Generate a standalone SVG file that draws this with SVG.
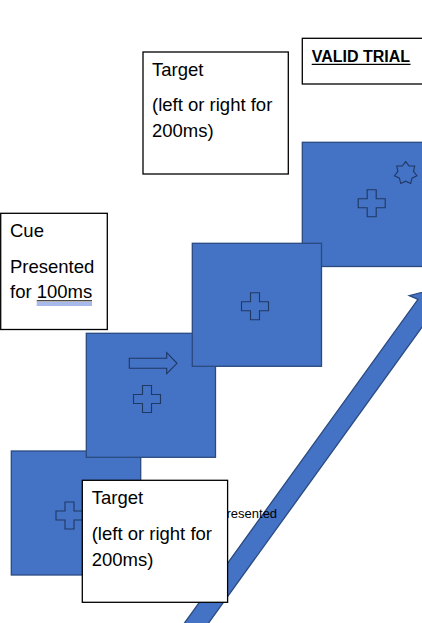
<svg xmlns="http://www.w3.org/2000/svg" xmlns:xlink="http://www.w3.org/1999/xlink" width="422" height="623" viewBox="0 0 422 623">
  <style>
    .screen { fill: #4472C4; stroke: #2A4A80; stroke-width: 1.3; }
    .shape { fill: #4472C4; stroke: #1F3864; stroke-width: 1.1; }
    .box { fill: #FFFFFF; stroke: #000000; stroke-width: 1.3; }
    .txt { font-family: "Liberation Sans", Arial, sans-serif; font-size: 18.5px; fill: #000000; }
    .small { font-family: "Liberation Sans", Arial, sans-serif; font-size: 13px; fill: #000000; }
    .title { font-family: "Liberation Sans", Arial, sans-serif; font-size: 16px; font-weight: bold; fill: #000000; }
  </style>
  <defs>
    <path id="plus" d="M-4.5,-13.5 H4.5 V-4.5 H13.5 V4.5 H4.5 V13.5 H-4.5 V4.5 H-13.5 V-4.5 H-4.5 Z"/>
  </defs>
  <rect width="422" height="623" fill="#FFFFFF"/>

  <g id="screen-1">
    <rect class="screen" x="11.3" y="451" width="129.4" height="124"/>
    <use xlink:href="#plus" href="#plus" class="shape" x="69.5" y="515.5"/>
  </g>
  <g id="screen-2">
    <rect class="screen" x="86.3" y="333.3" width="129.2" height="124"/>
    <polygon class="shape" points="129.3,358.3 166.7,358.3 166.7,352.7 177,363.3 166.7,373.7 166.7,368.3 129.3,368.3"/>
    <use xlink:href="#plus" href="#plus" class="shape" x="147" y="399"/>
  </g>
  <g id="screen-4">
    <rect class="screen" x="302.3" y="142.3" width="130" height="124.2"/>
    <use xlink:href="#plus" href="#plus" class="shape" x="371.7" y="203.3"/>
    <polygon class="shape" transform="translate(405.7,173.2)" points="0,-11.5 3.47,-7.21 8.99,-7.17 7.8,-1.78 11.21,2.56 6.25,4.99 4.99,10.36 0,8 -4.99,10.36 -6.25,4.99 -11.21,2.56 -7.8,-1.78 -8.99,-7.17 -3.47,-7.21"/>
  </g>
  <g id="screen-3">
    <rect class="screen" x="192.3" y="243.3" width="129.2" height="123"/>
    <use xlink:href="#plus" href="#plus" class="shape" x="255" y="306.3"/>
  </g>

  <g id="connectors">
    <polygon id="time-arrow" class="screen" points="172.2,640 418,299.3 409.3,295.7 437,288.6 440.8,315.7 433.8,310.7 196.3,640"/>
  </g>

  <g id="presented-label">
    <text class="small" x="226.5" y="517.7">resented</text>
  </g>

  <g id="cue-box">
    <rect class="box" x="0.7" y="213.3" width="106.6" height="116.2"/>
    <text class="txt" x="10" y="237">Cue</text>
    <text class="txt" x="10" y="273">Presented</text>
    <text class="txt" x="10" y="298">for 100ms</text>
    <line x1="36.7" y1="300.8" x2="92" y2="300.8" stroke="#000000" stroke-width="1"/>
    <line x1="36.7" y1="303" x2="92" y2="303" stroke="#3C64D2" stroke-width="0.9"/>
    <line x1="36.7" y1="305" x2="92" y2="305" stroke="#3C64D2" stroke-width="0.9"/>
  </g>

  <g id="target-box-top">
    <rect class="box" x="143" y="52" width="145.3" height="122"/>
    <text class="txt" x="152" y="76">Target</text>
    <text class="txt" x="152" y="111">(left or right for</text>
    <text class="txt" x="152" y="137">200ms)</text>
  </g>

  <g id="valid-trial-box">
    <rect class="box" x="302.3" y="38.3" width="130" height="45.7"/>
    <text class="title" x="311.7" y="61.7">VALID TRIAL</text>
    <line x1="311.7" y1="64.3" x2="410.5" y2="64.3" stroke="#000000" stroke-width="1.3"/>
  </g>

  <g id="target-box-bottom">
    <rect class="box" x="82.3" y="480.3" width="145.3" height="122"/>
    <text class="txt" x="91.7" y="504">Target</text>
    <text class="txt" x="91.7" y="540">(left or right for</text>
    <text class="txt" x="91.7" y="566">200ms)</text>
  </g>
</svg>
